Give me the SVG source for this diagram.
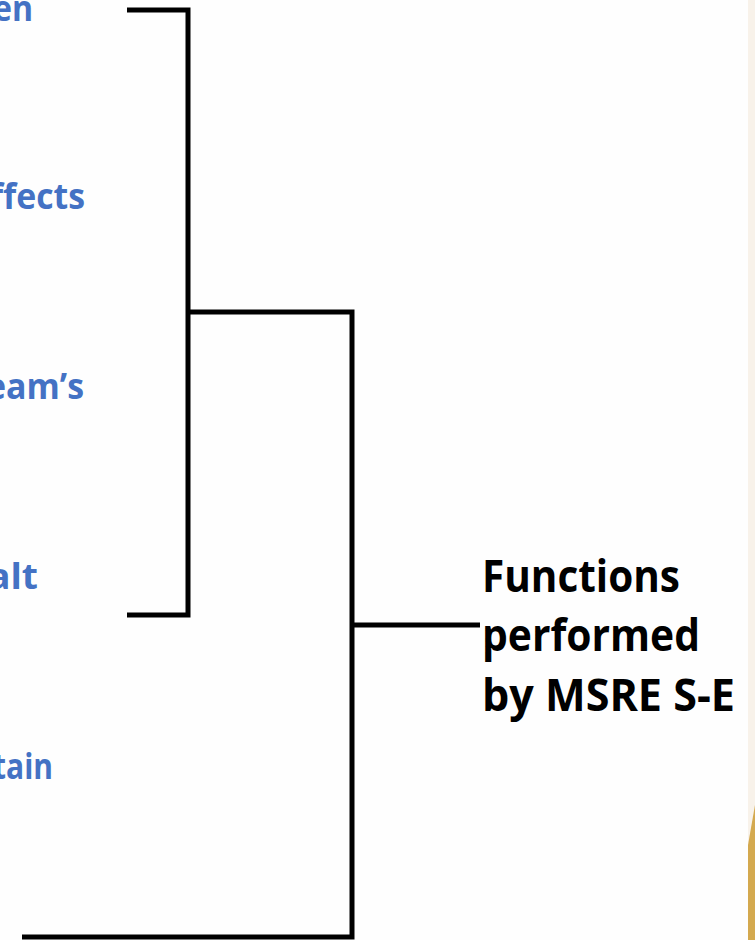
<svg xmlns="http://www.w3.org/2000/svg" width="755" height="940" viewBox="0 0 755 940">
<style>
.blue{font-family:"Open Sans","Liberation Sans",sans-serif;font-weight:bold;font-size:35px;fill:#4472C4;text-anchor:end}
.blk{font-family:"Open Sans","Liberation Sans",sans-serif;font-weight:bold;font-size:44px;fill:#000}
.ln{fill:none;stroke:#000;stroke-width:5}
</style>
<rect width="755" height="940" fill="#fefefe"/>
<rect x="748" y="0" width="7" height="940" fill="#f8f2ea"/>
<polygon points="748,845 755,805 755,940 748,940" fill="#d4a94f"/>
<g id="labels-left">
<text class="blue" x="33" y="21" textLength="40" lengthAdjust="spacingAndGlyphs">en</text>
<text class="blue" x="85" y="209" textLength="95" lengthAdjust="spacingAndGlyphs">ffects</text>
<text class="blue" x="84" y="399" textLength="98" lengthAdjust="spacingAndGlyphs">eam’s</text>
<text class="blue" x="38" y="589" textLength="50" lengthAdjust="spacingAndGlyphs">alt</text>
<text class="blue" x="53" y="779" textLength="60" lengthAdjust="spacingAndGlyphs">tain</text>
</g>
<g id="root-label">
<text class="blk" x="482" y="592" textLength="198" lengthAdjust="spacingAndGlyphs">Functions</text>
<text class="blk" x="482" y="651" textLength="218" lengthAdjust="spacingAndGlyphs">performed</text>
<text class="blk" x="482" y="711" textLength="253" lengthAdjust="spacingAndGlyphs">by MSRE S-E</text>
</g>
<g id="connectors">
<polyline class="ln" points="127,10 188,10 188,615 127,615"/>
<polyline class="ln" points="188,312 352,312 352,937 22,937"/>
<line class="ln" x1="352" y1="625" x2="480" y2="625"/>
</g>
</svg>
